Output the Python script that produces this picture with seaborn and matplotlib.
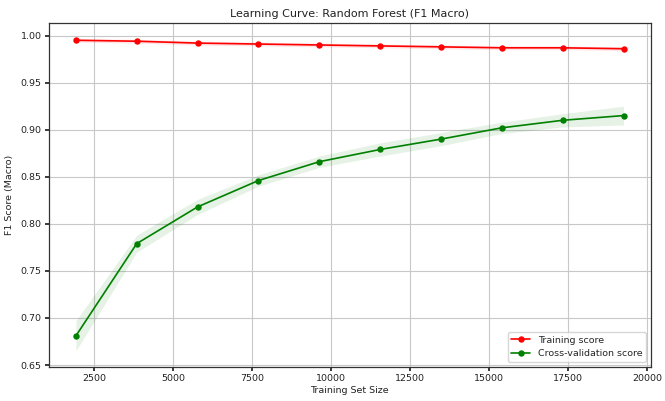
import numpy as np
import pandas as pd
import matplotlib
matplotlib.use("Agg")
import matplotlib.pyplot as plt
import seaborn as sns

# Learning curve results (F1 macro), Random Forest
train_sizes = [1926, 3852, 5778, 7704, 9630, 11556, 13482, 15408, 17334, 19260]
train_mean = [0.995, 0.994, 0.992, 0.991, 0.990, 0.989, 0.988, 0.987, 0.987, 0.986]
train_std = [0.002, 0.002, 0.002, 0.002, 0.002, 0.002, 0.002, 0.002, 0.002, 0.002]
cv_mean = [0.681, 0.779, 0.818, 0.846, 0.866, 0.879, 0.890, 0.902, 0.910, 0.915]
cv_std = [0.016, 0.009, 0.008, 0.006, 0.006, 0.007, 0.007, 0.006, 0.007, 0.010]

sns.set_theme(style="ticks")
plt.rcParams["font.family"] = ["DejaVu Sans"]

fig, ax = plt.subplots(figsize=(6.65, 4.01), dpi=100)
fig.subplots_adjust(left=0.073, right=0.979, bottom=0.085, top=0.943)

df = pd.DataFrame({
    "size": train_sizes * 2,
    "score": train_mean + cv_mean,
    "kind": ["Training score"] * len(train_sizes) + ["Cross-validation score"] * len(train_sizes),
})

tm, ts = np.array(train_mean), np.array(train_std)
cm, cs = np.array(cv_mean), np.array(cv_std)
ax.fill_between(train_sizes, tm - ts, tm + ts, color="red", alpha=0.1, linewidth=0)
ax.fill_between(train_sizes, cm - cs, cm + cs, color="green", alpha=0.1, linewidth=0)

sns.lineplot(data=df, x="size", y="score", hue="kind",
             palette={"Training score": "red", "Cross-validation score": "green"},
             marker="o", markersize=4.6, markeredgewidth=0, linewidth=1.2, ax=ax)

ax.grid(True, color="#c8c8c8", linewidth=0.8)
ax.set_xticks([2500, 5000, 7500, 10000, 12500, 15000, 17500, 20000])
ax.set_yticks([0.65, 0.70, 0.75, 0.80, 0.85, 0.90, 0.95, 1.00])
ax.set_xlim(1060, 20130)
ax.set_ylim(0.648, 1.0135)
ax.tick_params(labelsize=6.8, colors="#222222", length=3, pad=2)
for s in ax.spines.values():
    s.set_color("#333333")
    s.set_linewidth(0.9)

ax.set_title("Learning Curve: Random Forest (F1 Macro)", fontsize=8, color="#222222", pad=4)
ax.set_xlabel("Training Set Size", fontsize=6.8, color="#222222", labelpad=2)
ax.set_ylabel("F1 Score (Macro)", fontsize=6.8, color="#222222", labelpad=5)
ax.legend(loc="lower right", fontsize=6.8, title=None, frameon=True)

fig.savefig("out.png", dpi=100)
